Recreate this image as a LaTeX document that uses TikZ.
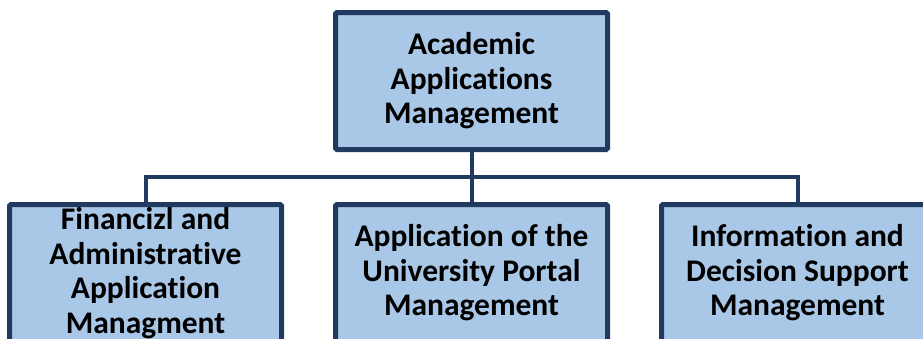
\documentclass[tikz,border=0pt]{standalone}
\usepackage{fontspec}
\setmainfont[Ligatures=CommonOff]{Carlito}
\usepackage{tikz}
\definecolor{boxfill}{RGB}{169,200,231}
\definecolor{boxline}{RGB}{33,58,96}
\tikzstyle{unit}=[draw=boxline,fill=boxfill,line width=5pt,minimum width=272pt,minimum height=137pt,inner sep=0pt,align=center,rounded corners=1.5pt,font=\fontsize{31.5}{34.5}\selectfont\bfseries]
\tikzstyle{link}=[draw=boxline,line width=4pt]

\begin{document}
\begin{tikzpicture}[x=1pt,y=-1pt]
  \useasboundingbox (0,0) rectangle (923,338);
  \node[unit] (top) at (471.5,81) {Academic\\Applications\\Management};
  \foreach \i/\x/\txt in {1/145.5/{Financizl and\\Administrative\\Application\\Managment},
                          2/471.5/{Application of the\\University Portal\\Management},
                          3/797.5/{Information and\\Decision Support\\Management}}{
    \node[unit] (a\i) at (\x,273) {\txt};
  }
  \coordinate (j) at (471.5,177);
  \draw[link] (top.south) -- (j) -- (a2.north);
  \draw[link] (a1.north) |- (j) -| (a3.north);
\end{tikzpicture}
\end{document}
